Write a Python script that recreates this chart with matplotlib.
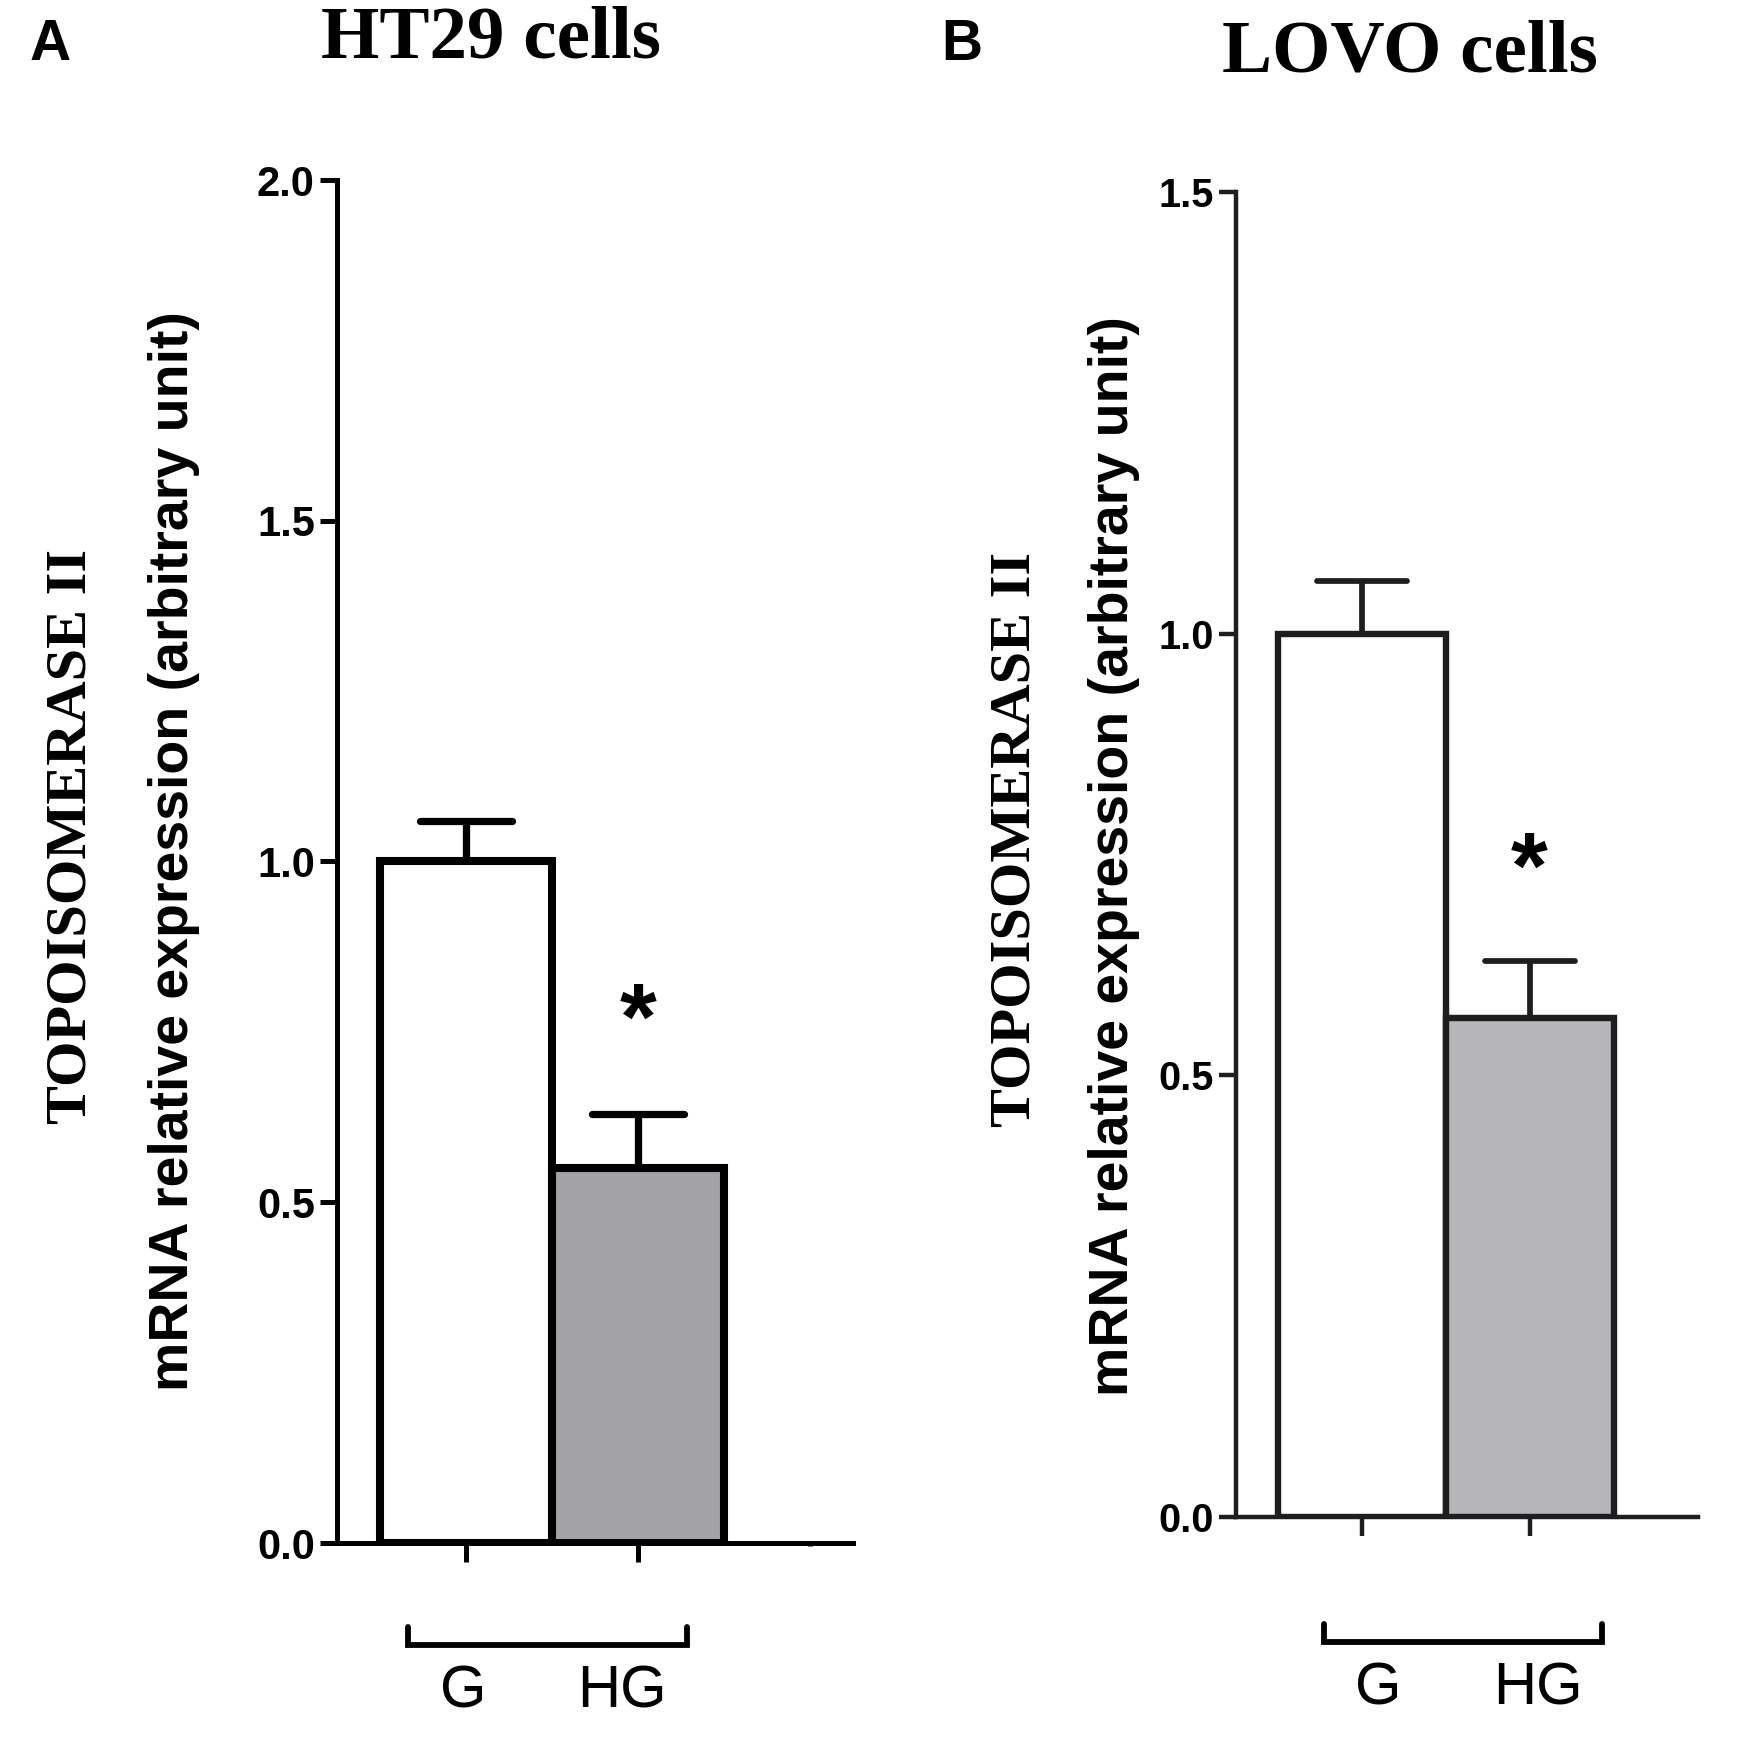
import matplotlib
matplotlib.use("Agg")
import matplotlib.pyplot as plt
from matplotlib.lines import Line2D

# ---- data ----
categories = ["G", "HG"]
ht29_values = [1.00, 0.55]
ht29_errors = [0.06, 0.08]
lovo_values = [1.00, 0.565]
lovo_errors = [0.06, 0.065]
ht29_yticks = [0.0, 0.5, 1.0, 1.5, 2.0]
lovo_yticks = [0.0, 0.5, 1.0, 1.5]
ylabel_top = "TOPOISOMERASE II"
ylabel_bottom = "mRNA relative expression (arbitrary unit)"

W, H = 1737, 1744
DPI = 100
fig = plt.figure(figsize=(W / DPI, H / DPI), dpi=DPI)
fig.patch.set_facecolor("white")

SANS = ["Liberation Sans", "DejaVu Sans"]
SERIF = ["Liberation Serif", "DejaVu Serif"]


def fx(px):
    return px / W


def fy(py):
    return 1 - py / H


def make_panel(rect, values, errors, yticks, ylim, xlim, fills, edge, lw_bar, lw_axis,
               tick_fs, cap_half, third_tick):
    ax = fig.add_axes(rect)
    x = list(range(len(values)))
    ax.bar(x, values, width=1.0, color=fills, edgecolor=edge, linewidth=lw_bar,
           zorder=3)
    for xi, v, e in zip(x, values, errors):
        ax.vlines(xi, v, v + e, color=edge, linewidth=lw_bar * 0.9, zorder=2)
        ax.hlines(v + e, xi - cap_half, xi + cap_half, color=edge,
                  linewidth=lw_bar * 0.9, zorder=2, capstyle="round")
    ax.set_xlim(*xlim)
    ax.set_ylim(*ylim)
    ax.set_yticks(yticks)
    ax.set_yticklabels([f"{t:.1f}" for t in yticks], fontfamily=SANS,
                       fontweight="bold", fontsize=tick_fs)
    ax.set_xticks(x)
    ax.set_xticklabels([])
    if third_tick:
        ax.set_xticks([len(values)], minor=True)
        ax.tick_params(axis="x", which="minor", length=2.5, width=lw_axis, color=edge)
    for s in ["top", "right"]:
        ax.spines[s].set_visible(False)
    for s in ["left", "bottom"]:
        ax.spines[s].set_linewidth(lw_axis)
        ax.spines[s].set_color(edge)
    ax.tick_params(axis="y", direction="out", length=12, width=lw_axis, color=edge,
                   pad=4)
    ax.tick_params(axis="x", which="major", direction="out", length=14, width=lw_axis,
                   color=edge)
    ax.set_facecolor("none")
    return ax


# left panel (HT29)
axL = make_panel([fx(337), fy(1543), fx(853) - fx(337), fy(180) - fy(1543)],
                 ht29_values, ht29_errors, ht29_yticks, (0, 2.0), (-0.75, 2.25),
                 ["white", "#a3a3a7"], "black", 5.8, 3.6, 30, 0.27, True)
# right panel (LOVO)
axR = make_panel([fx(1236), fy(1517), fx(1698) - fx(1236), fy(192) - fy(1517)],
                 lovo_values, lovo_errors, lovo_yticks, (0, 1.5), (-0.75, 2.0),
                 ["white", "#b5b5ba"], "#1e1e1e", 4.6, 3.2, 28.5, 0.27, False)

# asterisks
AST = 68
for xc, yc in [(638, 994), (1529, 843)]:
    fig.text(fx(xc), fy(yc + 0.58 * AST * DPI / 72), "*", fontfamily=SANS,
             fontweight="bold", fontsize=AST, ha="center", va="baseline")

# brackets and category labels
for (x0, x1, yb, ytop), labx, laby in [
        ((408, 687, 1645, 1627), (463, 622), 1692),
        ((1324, 1602, 1642, 1624), (1378, 1538), 1689)]:
    fig.add_artist(Line2D([fx(x0), fx(x0), fx(x1), fx(x1)],
                          [fy(ytop), fy(yb), fy(yb), fy(ytop)],
                          color="black", linewidth=4.2, solid_capstyle="round",
                          solid_joinstyle="miter"))
    for cat, lx in zip(categories, labx):
        fig.text(fx(lx), fy(laby), cat, fontfamily=SANS, fontsize=43,
                 ha="center", va="center")

# panel letters and titles
fig.text(fx(30), fy(45), "A", fontfamily=SANS, fontweight="bold", fontsize=41,
         ha="left", va="center")
fig.text(fx(941), fy(45), "B", fontfamily=SANS, fontweight="bold", fontsize=41,
         ha="left", va="center")
fig.text(fx(491), fy(39), "HT29 cells", fontfamily=SERIF, fontweight="bold",
         fontsize=54, ha="center", va="center")
fig.text(fx(1410), fy(53), "LOVO cells", fontfamily=SERIF, fontweight="bold",
         fontsize=54, ha="center", va="center")

# y labels
for xt, yt, xb, yb2 in [(72, 836, 174, 851), (1016, 839, 1114, 856)]:
    fig.text(fx(xt), fy(yt), ylabel_top, fontfamily=SERIF, fontweight="bold",
             fontsize=42, rotation=90, ha="center", va="center")
    fig.text(fx(xb), fy(yb2), ylabel_bottom, fontfamily=SANS, fontweight="bold",
             fontsize=40, rotation=90, ha="center", va="center")

fig.savefig("out.png", dpi=DPI, facecolor="white")
